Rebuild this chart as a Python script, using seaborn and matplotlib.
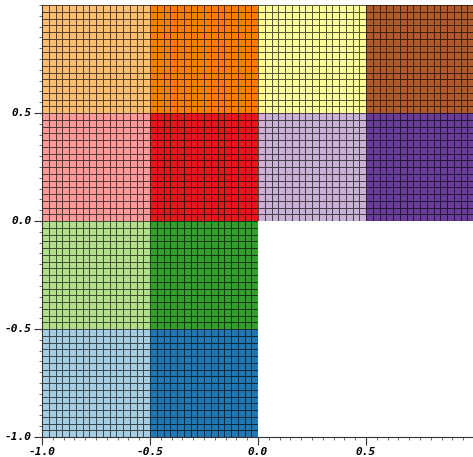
import matplotlib
matplotlib.use("Agg")
import matplotlib.pyplot as plt
import numpy as np
import seaborn as sns
from matplotlib.colors import ListedColormap
from matplotlib.ticker import MultipleLocator

# Colour index (Paired palette) of each 0.5 x 0.5 block, top row first; nan = empty
block_rows = [
    [6, 7, 10, 11],
    [4, 5, 8, 9],
    [2, 3, np.nan, np.nan],
    [0, 1, np.nan, np.nan],
]
cells_per_block = 16
x_ticks = [-1.0, -0.5, 0.0, 0.5]
y_ticks = [0.5, 0.0, -0.5, -1.0]

blocks = np.array(block_rows, dtype=float)
grid = np.repeat(np.repeat(blocks, cells_per_block, axis=0), cells_per_block, axis=1)
n = grid.shape[0]
scale = n / 2.0  # cells per data unit

cmap = ListedColormap(sns.color_palette("Paired", 12))

fig = plt.figure(figsize=(4.73, 4.57), dpi=100)
ax = fig.add_axes([42 / 473, 20 / 457, 432 / 473, 432 / 457])
sns.heatmap(grid, ax=ax, cmap=cmap, vmin=-0.5, vmax=11.5, cbar=False,
            linewidths=0.5, linecolor=(0, 0, 0, 0.65), square=False)

# empty blocks: hide the cell edges there
for i, row in enumerate(block_rows):
    for j, v in enumerate(row):
        if np.isnan(v):
            ax.add_patch(plt.Rectangle((j * cells_per_block, i * cells_per_block),
                                       cells_per_block, cells_per_block,
                                       facecolor="white", edgecolor="none", zorder=1.5))

ax.set_xlim(0, n)
ax.set_ylim(n, 0)
ax.set_xticks([(v + 1) * scale for v in x_ticks])
ax.set_xticklabels([f"{v:.1f}" for v in x_ticks])
ax.set_yticks([(1 - v) * scale for v in y_ticks])
ax.set_yticklabels([f"{v:.1f}" for v in y_ticks], rotation=0)
ax.xaxis.set_minor_locator(MultipleLocator(0.05 * scale))
ax.yaxis.set_minor_locator(MultipleLocator(0.05 * scale))

for side in ["left", "bottom"]:
    ax.spines[side].set_visible(True)
    ax.spines[side].set_color("#333333")
    ax.spines[side].set_linewidth(0.8)
    ax.spines[side].set_zorder(3)

ax.tick_params(which="major", length=6, width=0.8, color="#333333", pad=1.5)
ax.tick_params(which="minor", length=2.5, width=0.6, color="#555555")
for lab in ax.get_xticklabels() + ax.get_yticklabels():
    lab.set_fontfamily("DejaVu Sans Mono")
    lab.set_fontweight("bold")
    lab.set_fontstyle("italic")
    lab.set_fontsize(8)

fig.savefig("out.png", dpi=100)
